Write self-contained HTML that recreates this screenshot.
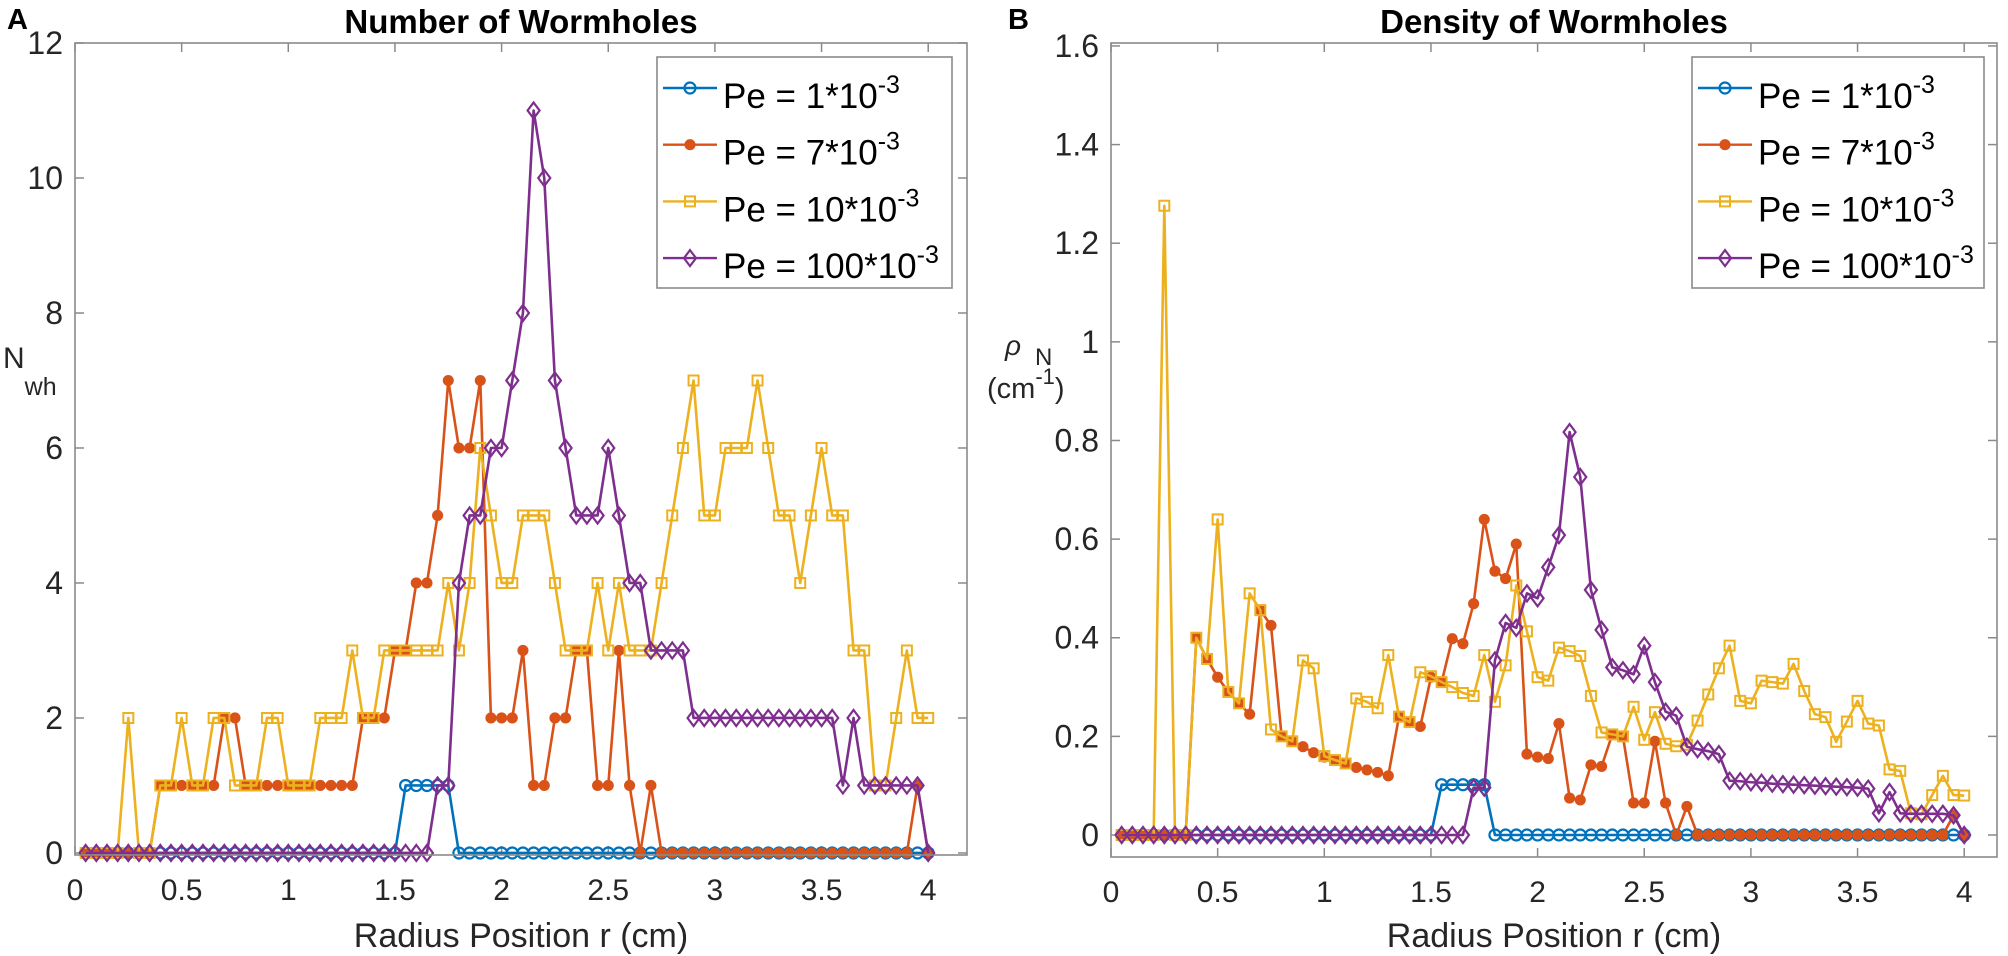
<!DOCTYPE html>
<html><head><meta charset="utf-8">
<style>
html,body{margin:0;padding:0;background:#fff;}
svg{display:block;font-family:"Liberation Sans",Arial,sans-serif;}
</style></head>
<body>
<svg id="chart" width="2008" height="956" viewBox="0 0 2008 956" xmlns="http://www.w3.org/2000/svg"></svg>
<script>
// ---- data ----
const radiusCm = Array.from({length:80},(_,k)=>+(0.05*(k+1)).toFixed(2));
const seriesLabels = ["1", "7", "10", "100"];

const countPe1 = [0,0,0,0,0,0,0,0,0,0, 0,0,0,0,0,0,0,0,0,0, 0,0,0,0,0,0,0,0,0,0, 1,1,1,1,1,0,0,0,0,0, 0,0,0,0,0,0,0,0,0,0, 0,0,0,0,0,0,0,0,0,0, 0,0,0,0,0,0,0,0,0,0, 0,0,0,0,0,0,0,0,0,0];
const countPe7 = [0,0,0,0,0,0,0,1,1,1, 1,1,1,2,2,1,1,1,1,1, 1,1,1,1,1,1,2,2,2,3, 3,4,4,5,7,6,6,7,2,2, 2,3,1,1,2,2,3,3,1,1, 3,1,0,1,0,0,0,0,0,0, 0,0,0,0,0,0,0,0,0,0, 0,0,0,0,0,0,0,0,1,0];
const countPe10 = [0,0,0,0,2,0,0,1,1,2, 1,1,2,2,1,1,1,2,2,1, 1,1,2,2,2,3,2,2,3,3, 3,3,3,3,4,3,4,6,5,4, 4,5,5,5,4,3,3,3,4,3, 4,3,3,3,4,5,6,7,5,5, 6,6,6,7,6,5,5,4,5,6, 5,5,3,3,1,1,2,3,2,2];
const countPe100 = [0,0,0,0,0,0,0,0,0,0, 0,0,0,0,0,0,0,0,0,0, 0,0,0,0,0,0,0,0,0,0, 0,0,0,1,1,4,5,5,6,6, 7,8,11,10,7,6,5,5,5,6, 5,4,4,3,3,3,3,2,2,2, 2,2,2,2,2,2,2,2,2,2, 2,1,2,1,1,1,1,1,1,0];

const densPe1 = [0,0,0,0,0,0,0,0,0,0, 0,0,0,0,0,0,0,0,0,0, 0,0,0,0,0,0,0,0,0,0, 0.102,0.102,0.102,0.102,0.102,0,0,0,0,0, 0,0,0,0,0,0,0,0,0,0, 0,0,0,0,0,0,0,0,0,0, 0,0,0,0,0,0,0,0,0,0, 0,0,0,0,0,0,0,0,0,0];
const densPe7 = [0,0,0,0,0,0,0,0.40,0.357,0.32, 0.29,0.267,0.245,0.456,0.425,0.2,0.19,0.179,0.167,0.158, 0.152,0.145,0.137,0.132,0.127,0.12,0.24,0.229,0.22,0.32, 0.31,0.398,0.388,0.469,0.64,0.535,0.52,0.59,0.164,0.158, 0.155,0.226,0.075,0.071,0.142,0.139,0.204,0.2,0.065,0.065, 0.19,0.065,0,0.058,0,0,0,0,0,0, 0,0,0,0,0,0,0,0,0,0, 0,0,0,0,0,0,0,0,0.04,0];
const densPe10 = [0,0,0,0,1.276,0,0,0.40,0.357,0.64, 0.29,0.267,0.49,0.456,0.214,0.2,0.19,0.354,0.338,0.16, 0.152,0.145,0.277,0.27,0.257,0.365,0.24,0.229,0.33,0.322, 0.31,0.30,0.288,0.282,0.365,0.27,0.344,0.506,0.413,0.32, 0.313,0.38,0.373,0.363,0.282,0.208,0.204,0.2,0.26,0.193, 0.249,0.185,0.18,0.183,0.232,0.285,0.338,0.384,0.272,0.267, 0.313,0.31,0.307,0.347,0.292,0.245,0.239,0.189,0.23,0.272, 0.226,0.222,0.133,0.13,0.044,0.042,0.081,0.12,0.081,0.08];
const densPe100 = [0,0,0,0,0,0,0,0,0,0, 0,0,0,0,0,0,0,0,0,0, 0,0,0,0,0,0,0,0,0,0, 0,0,0,0.096,0.096,0.354,0.43,0.42,0.49,0.48, 0.543,0.608,0.817,0.726,0.497,0.416,0.34,0.334,0.326,0.384, 0.31,0.25,0.242,0.179,0.174,0.17,0.164,0.11,0.109,0.107, 0.106,0.104,0.103,0.102,0.101,0.1,0.099,0.098,0.097,0.096, 0.094,0.044,0.087,0.044,0.043,0.043,0.043,0.043,0.04,0];

const xTicks = [0,0.5,1,1.5,2,2.5,3,3.5,4];
const xTickLabels = ["0","0.5","1","1.5","2","2.5","3","3.5","4"];
const yTicksA = [0,2,4,6,8,10,12];
const yTickLabelsA = ["0","2","4","6","8","10","12"];
const yTicksB = [0,0.2,0.4,0.6,0.8,1,1.2,1.4,1.6];
const yTickLabelsB = ["0","0.2","0.4","0.6","0.8","1","1.2","1.4","1.6"];

// ---- drawing ----
const NS="http://www.w3.org/2000/svg";
const svg=document.getElementById('chart');
const colors=["#0072BD","#D95319","#EDB120","#7E2F8E"];
const markers=["circle","star","square","diamond"];
function mk(tag,attrs,parent){const e=document.createElementNS(NS,tag);for(const k in attrs)e.setAttribute(k,attrs[k]);(parent||svg).appendChild(e);return e;}

function drawMarker(g,type,cx,cy,color){
  let m;
  if(type==="circle"){m=mk('circle',{cx:cx,cy:cy,r:5.5,fill:'none',stroke:color,'stroke-width':2.2},g);}
  else if(type==="star"){m=mk('circle',{cx:cx,cy:cy,r:4.8,fill:color,stroke:color,'stroke-width':1.5},g);}
  else if(type==="square"){m=mk('rect',{x:cx-5,y:cy-5,width:10,height:10,fill:'none',stroke:color,'stroke-width':2},g);}
  else {m=mk('polygon',{points:`${cx},${cy-8} ${cx+6},${cy} ${cx},${cy+8} ${cx-6},${cy}`,fill:'none',stroke:color,'stroke-width':2.2},g);}
  
  
}

function drawPanel(p){
  const g=mk('g',{});
  
  
  const sx=v=>p.left+(v-p.xmin)/(p.xmax-p.xmin)*(p.right-p.left);
  const sy=v=>p.bottom-(v-p.ymin)/(p.ymax-p.ymin)*(p.bottom-p.top);
  p.xTicks.forEach((t,k)=>{
    const x=sx(t);
    const a=mk('line',{x1:x,y1:p.bottom,x2:x,y2:p.bottom-9,stroke:'#8a8a8a','stroke-width':1.5},g);
    
    
    const b=mk('line',{x1:x,y1:p.top,x2:x,y2:p.top+9,stroke:'#8a8a8a','stroke-width':1.5},g);
    
    
    const tx=mk('text',{x:x,y:p.bottom+45,'text-anchor':'middle','font-size':30,fill:'#262626'},g);
    tx.textContent=p.xTickLabels[k];
    
    
  });
  p.yTicks.forEach((t,k)=>{
    const y=sy(t);
    const a=mk('line',{x1:p.left,y1:y,x2:p.left+9,y2:y,stroke:'#8a8a8a','stroke-width':1.5},g);
    
    
    const b=mk('line',{x1:p.right,y1:y,x2:p.right-9,y2:y,stroke:'#8a8a8a','stroke-width':1.5},g);
    
    
    const tx=mk('text',{x:p.left-12,y:y+11,'text-anchor':'end','font-size':32,fill:'#262626'},g);
    tx.textContent=p.yTickLabels[k];
    
    
  });
  p.series.forEach((vals,s)=>{
    const sg=mk('g',{},g);
    
    
    const pts=vals.map((v,k)=>sx(radiusCm[k])+','+sy(v)).join(' ');
    const pl=mk('polyline',{points:pts,fill:'none',stroke:colors[s],'stroke-width':2.6,'stroke-linejoin':'round'},sg);
    
    
    vals.forEach((v,k)=>drawMarker(sg,markers[s],sx(radiusCm[k]),sy(v),colors[s]));
  });
  const box=mk('rect',{x:p.left,y:p.top,width:p.right-p.left,height:p.bottom-p.top,fill:'none',stroke:'#8a8a8a','stroke-width':1.6},g);
  
  
  const ti=mk('text',{x:(p.left+p.right)/2,y:33,'text-anchor':'middle','font-size':33,'font-weight':'bold',fill:'#000'},g);
  ti.textContent=p.title;
  
  
  const xl=mk('text',{x:(p.left+p.right)/2,y:947,'text-anchor':'middle','font-size':34,fill:'#262626'},g);
  xl.textContent='Radius Position r (cm)';
  
  
  const pl=mk('text',{x:p.labelX,y:29,'font-size':29,'font-weight':'bold',fill:'#000'},g);
  pl.textContent=p.panelLabel;
  
  
  const lg=mk('g',{},g);
  
  
  const lb=mk('rect',{x:p.legX,y:57,width:p.legW,height:231,fill:'#fff',stroke:'#8a8a8a','stroke-width':1.6},lg);
  
  
  seriesLabels.forEach((lab,s)=>{
    const ly=88+s*56.7;
    const ln=mk('line',{x1:p.legX+6,y1:ly,x2:p.legX+60,y2:ly,stroke:colors[s],'stroke-width':2.4},lg);
    
    
    drawMarker(lg,markers[s],p.legX+33,ly,colors[s]);
    const t=mk('text',{x:p.legX+66,y:ly+20,'font-size':35,fill:'#000'},lg);
    
    
    t.innerHTML='Pe = '+lab+'*10<tspan font-size="25" dy="-15">-3</tspan>';
  });
}

drawPanel({name:'panel-a-number',left:75,right:967,top:43,bottom:855,xmin:0,xmax:(967-75)/213.3,ymin:-0.03,ymax:12,
  xTicks:xTicks,xTickLabels:xTickLabels,yTicks:yTicksA,yTickLabels:yTickLabelsA,
  series:[countPe1,countPe7,countPe10,countPe100],title:'Number of Wormholes',panelLabel:'A',labelX:7,legX:657,legW:295});
drawPanel({name:'panel-b-density',left:1111,right:1997,top:43,bottom:857,xmin:0,xmax:(1997-1111)/213.3,ymin:-0.0446,ymax:1.606,
  xTicks:xTicks,xTickLabels:xTickLabels,yTicks:yTicksB,yTickLabels:yTickLabelsB,
  series:[densPe1,densPe7,densPe10,densPe100],title:'Density of Wormholes',panelLabel:'B',labelX:1008,legX:1692,legW:292});

const ya=mk('text',{x:3,y:368,'font-size':30,fill:'#262626'});


ya.innerHTML='N<tspan font-size="25" dy="27">wh</tspan>';
const yb=mk('text',{x:1005,y:355,'font-size':28,fill:'#262626'});


yb.innerHTML='<tspan font-style="italic">ρ</tspan><tspan font-size="24" dx="14" dy="10">N</tspan>';
const yb2=mk('text',{x:987,y:398,'font-size':29,fill:'#262626'});


yb2.innerHTML='(cm<tspan font-size="22" dy="-14">-1</tspan><tspan dy="14">)</tspan>';
</script>
</body></html>
